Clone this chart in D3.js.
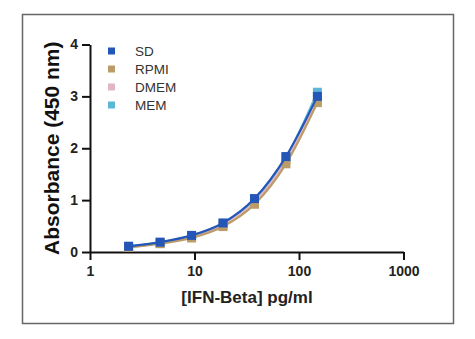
<!DOCTYPE html>
<html>
<head>
<meta charset="utf-8">
<script src="https://cdn.jsdelivr.net/npm/d3@7"></script>
<style>
  body { margin: 0; background: #fff; }
  text { font-family: "Liberation Sans", Arial, sans-serif; }
</style>
</head>
<body>
<div id="chart"></div>
<script>
// concentrations (pg/ml) and absorbance readings per medium
var conc = [2.34, 4.69, 9.375, 18.75, 37.5, 75, 150];
var seriesNames = ["SD", "RPMI", "DMEM", "MEM"];
var seriesColors = ["#2456b8", "#bb9c68", "#e2b6c2", "#5cb6d8"];
var sdVals   = [0.11, 0.19, 0.32, 0.56, 1.03, 1.84, 3.00];
var rpmiVals = [0.09, 0.16, 0.27, 0.49, 0.92, 1.70, 2.88];
var dmemVals = [0.10, 0.17, 0.29, 0.52, 0.96, 1.76, 2.94];
var memVals  = [0.11, 0.18, 0.31, 0.55, 1.01, 1.82, 3.08];
var xTicks = [1, 10, 100, 1000];
var yTicks = [0, 1, 2, 3, 4];

function init(){
    var w = 475, h = 339;
    var svg = d3.select("#chart").append("svg")
                .attr("width", w)
                .attr("height", h);

    // outer frame
    svg.append("rect")
        .attr("x", 22.5).attr("y", 14.5)
        .attr("width", 431).attr("height", 309)
        .attr("fill", "none")
        .attr("stroke", "#666")
        .attr("stroke-width", 1.5);

    var xScale = d3.scaleLog().domain([1, 1000]).range([90, 403.5]);
    var yScale = d3.scaleLinear().domain([0, 4]).range([252, 44.5]);

    // x axis
    var xAxis = svg.append("g")
        .attr("transform", "translate(0," + yScale(0) + ")")
        .call(d3.axisBottom(xScale).tickValues(xTicks).tickFormat(d3.format("d"))
              .tickSize(8).tickSizeOuter(0).tickPadding(6));
    // y axis
    var yAxis = svg.append("g")
        .attr("transform", "translate(" + xScale(1) + ",0)")
        .call(d3.axisLeft(yScale).tickValues(yTicks).tickFormat(d3.format("d"))
              .tickSize(8).tickSizeOuter(0).tickPadding(4));

    [xAxis, yAxis].forEach(function(a){
        a.select(".domain").attr("stroke", "#111").attr("stroke-width", 2);
        a.selectAll(".tick line").attr("stroke", "#111").attr("stroke-width", 2);
        a.selectAll(".tick text")
            .attr("fill", "#222")
            .style("font-size", "14px")
            .style("font-weight", "bold")
            .style("font-family", "'Liberation Sans', Arial, sans-serif");
    });

    // axis titles
    svg.append("text")
        .attr("transform", "translate(59," + yScale(2) + ") rotate(-90)")
        .attr("text-anchor", "middle")
        .attr("fill", "#111")
        .style("font-size", "21px")
        .style("font-weight", "bold")
        .text("Absorbance (450 nm)");
    svg.append("text")
        .attr("x", 247).attr("y", 303)
        .attr("text-anchor", "middle")
        .attr("fill", "#222")
        .style("font-size", "17px")
        .style("font-weight", "bold")
        .text("[IFN-Beta] pg/ml");

    var allVals = [sdVals, rpmiVals, dmemVals, memVals];
    var line = d3.line()
        .x(function(d){ return xScale(d[0]); })
        .y(function(d){ return yScale(d[1]); })
        .curve(d3.curveMonotoneX);

    // draw back to front so SD ends up on top
    [3, 2, 1, 0].forEach(function(s){
        var pts = conc.map(function(c, i){ return [c, allVals[s][i]]; });
        svg.append("path")
            .datum(pts)
            .attr("d", line)
            .attr("fill", "none")
            .attr("stroke", seriesColors[s])
            .attr("stroke-width", 2.2);
        svg.selectAll(".pt" + s)
            .data(pts)
            .enter()
            .append("rect")
            .attr("class", "pt" + s)
            .attr("x", function(d){ return xScale(d[0]) - 4.5; })
            .attr("y", function(d){ return yScale(d[1]) - 4.5; })
            .attr("width", 9)
            .attr("height", 9)
            .attr("fill", seriesColors[s]);
    });

    // legend
    var legend = svg.selectAll(".legend")
        .data(seriesNames)
        .enter()
        .append("g")
        .attr("transform", function(d, i){ return "translate(108," + (51 + i * 18) + ")"; });
    legend.append("rect")
        .attr("x", 0).attr("y", -3.5)
        .attr("width", 7).attr("height", 7)
        .attr("fill", function(d, i){ return seriesColors[i]; });
    legend.append("text")
        .attr("x", 27).attr("y", 5)
        .attr("fill", "#333")
        .style("font-size", "13.5px")
        .text(function(d){ return d; });
}

window.onload = init;
</script>
</body>
</html>
